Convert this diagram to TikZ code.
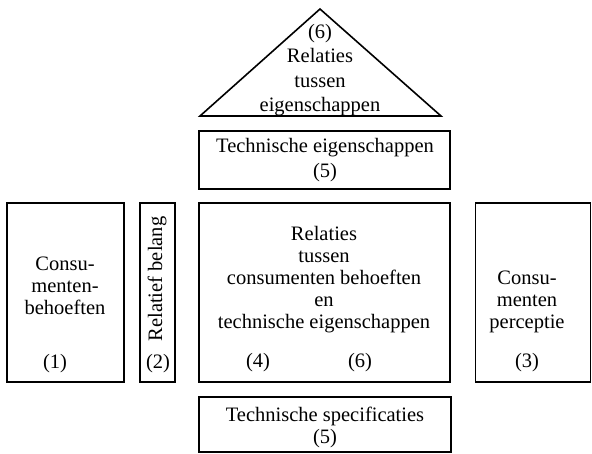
\documentclass[tikz,border=0pt]{standalone}
\usepackage{fontspec}
\setmainfont{Liberation Serif}
\tikzset{
  vak/.style={draw, line width=1.6pt, inner sep=0pt, outer sep=0pt},
  tekst/.style={align=center, inner sep=0pt, font=\fontsize{20.5}{22}\selectfont},
  ruim/.style={tekst, font=\fontsize{20.5}{24.5}\selectfont}
}

\begin{document}
\begin{tikzpicture}[x=1pt, y=-1pt]
\useasboundingbox (0,0) rectangle (592,453);
\draw[line width=1.6pt, line join=miter] (200,116) -- (320,9) -- (441,116) -- cycle;
\node[ruim] (driehoek) at (320,70) {(6)\\Relaties\\tussen\\eigenschappen};
\node[vak, minimum width=251, minimum height=58] (eigenschappen) at (324.5,160) {};
\node[ruim] (eigenschappentekst) at (325,160) {Technische eigenschappen\\(5)};
\node[vak, minimum width=117, minimum height=179] (behoeften) at (65.5,292.5) {};
\node[tekst] (behoeftentekst) at (65,286) {Consu-\\menten-\\behoeften};
\node[tekst] (een) at (55,364) {(1)};
\node[vak, minimum width=35, minimum height=179] (belang) at (157.5,292.5) {};
\node[tekst, rotate=90] (belangtekst) at (157,279) {Relatief belang};
\node[tekst] (twee) at (158,364) {(2)};
\node[vak, minimum width=251, minimum height=179] (relaties) at (324.5,292.5) {};
\node[tekst] (relatiestekst) at (324,280) {Relaties\\tussen\\consumenten behoeften\\en\\technische eigenschappen};
\node[tekst] (vier) at (258,363) {(4)};
\node[tekst] (zes) at (360,363) {(6)};
\node[vak, minimum width=115, minimum height=179] (perceptie) at (533,292.5) {};
\node[tekst] (perceptietekst) at (527,302) {Consu-\\menten\\perceptie};
\node[tekst] (drie) at (527,363) {(3)};
\node[vak, minimum width=252, minimum height=55] (specificaties) at (325,424.5) {};
\node[tekst] (specificatiestekst) at (325,427) {Technische specificaties\\(5)};
\end{tikzpicture}
\end{document}
